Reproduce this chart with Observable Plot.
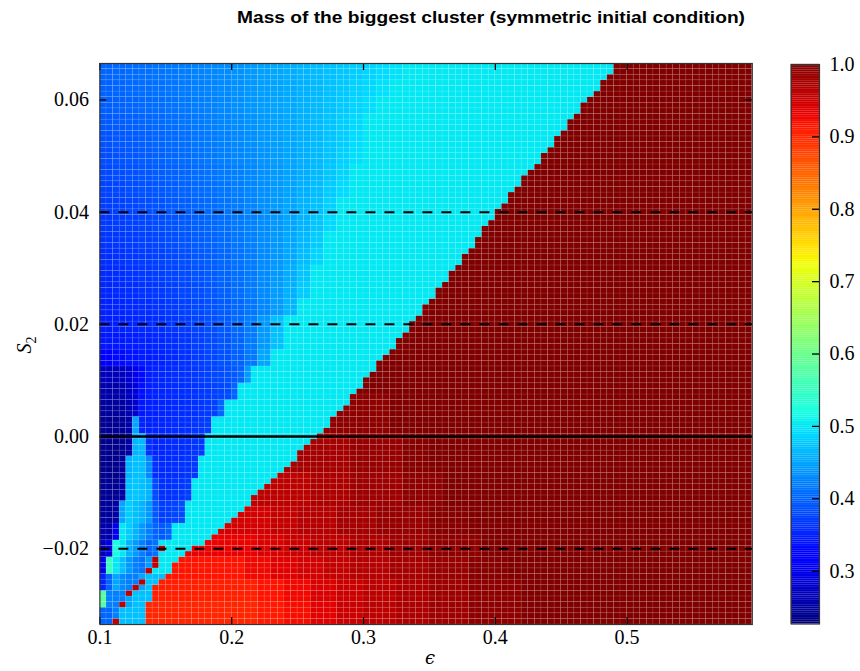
<!DOCTYPE html>
<html><head><meta charset="utf-8">
<script src="https://cdn.jsdelivr.net/npm/d3@7"></script>
<script src="https://cdn.jsdelivr.net/npm/@observablehq/plot@0.6"></script>
<style>
html,body{margin:0;padding:0;background:#fff;}
#wrap{position:relative;width:860px;height:671px;overflow:hidden;background:#fff;}
#wrap > *{position:absolute;left:0;top:0;}
#wrap svg.axisfont text{font-family:"Liberation Serif","DejaVu Serif",serif !important;font-size:20px !important;}
</style></head><body><div id="wrap"></div>
<script>
// ---------------- data ----------------
const title = "Mass of the biggest cluster (symmetric initial condition)";
const xTicks = [0.1, 0.2, 0.3, 0.4, 0.5];
const yTicks = [-0.02, 0.0, 0.02, 0.04, 0.06];
const cbTicks = [0.3, 0.4, 0.5, 0.6, 0.7, 0.8, 0.9, 1.0];
const dashedLevels = [-0.02, 0.02, 0.04];
const zeroLevel = [0];
const colorDomain = [0.227, 1.0];
// grid: epsilon cell edges 0.100..0.595 (step 0.005), S2 rows centred -0.033..0.066 (step 0.001)
const epsEdges = d3.range(0, 100).map(i => +(0.1 + 0.005 * i).toFixed(3));
const s2Centres = d3.range(0, 100).map(j => +(-0.033 + 0.001 * j).toFixed(3));
// first column of the dark-red region, per S2 row (bottom to top)
const redStart = [7,7,7,7,8,8,8,9,10,11, 11,12,13,14,16,17,18,19,20,21,
  22,23,23,24,25,26,27,28,29,30, 30,31,32,33,34,35,35,36,37,38,
  38,39,40,40,41,42,42,43,44,45, 45,46,47,47,48,49,49,50,51,51,
  52,53,53,54,55,55,56,57,57,58, 58,59,60,60,61,62,62,63,64,64,
  65,66,67,67,68,69,69,70,71,71, 72,73,73,74,75,76,76,77,78,78];
// blue/cyan part: [row from, row to, columns per value, values from column 0; the last one runs on to the red]
const coolBands = [
  [97,99,2,[.40,.402,.405,.408,.411,.414,.418,.422,.426,.43,.435,.44,.445,.45,.455,.46,.465,.47,.475,.48,.485,.49,.495,.50]],
  [94,96,2,[.397,.40,.403,.406,.409,.412,.416,.42,.424,.428,.433,.438,.443,.448,.453,.458,.464,.47,.476,.482,.488,.494,.50]],
  [91,93,2,[.394,.397,.40,.403,.406,.41,.414,.418,.422,.427,.432,.437,.442,.447,.452,.458,.464,.47,.477,.484,.491,.50]],
  [88,90,2,[.39,.393,.396,.40,.403,.407,.411,.415,.42,.425,.43,.435,.44,.446,.452,.458,.465,.472,.48,.488,.50]],
  [85,87,2,[.386,.389,.392,.396,.40,.404,.408,.412,.417,.422,.427,.432,.438,.444,.45,.457,.464,.472,.48,.49,.50]],
  [82,84,2,[.382,.385,.389,.393,.397,.401,.405,.41,.415,.42,.425,.43,.436,.442,.449,.456,.464,.472,.482,.492,.50]],
  [79,81,2,[.378,.381,.385,.389,.393,.397,.401,.406,.411,.416,.421,.427,.433,.44,.447,.455,.464,.474,.485,.50]],
  [76,78,2,[.374,.377,.381,.385,.389,.393,.398,.403,.408,.413,.419,.425,.432,.44,.448,.457,.467,.478,.49,.50]],
  [73,75,2,[.37,.373,.377,.381,.385,.39,.395,.40,.405,.411,.417,.424,.432,.44,.449,.459,.47,.483,.50]],
  [70,72,2,[.366,.369,.373,.377,.381,.386,.391,.396,.402,.408,.415,.422,.43,.439,.449,.46,.473,.488,.50]],
  [67,69,2,[.362,.365,.369,.373,.377,.382,.387,.393,.399,.405,.412,.42,.429,.439,.45,.463,.478,.50]],
  [64,66,2,[.358,.361,.365,.369,.373,.378,.383,.389,.395,.402,.41,.418,.428,.439,.452,.467,.485,.50]],
  [61,63,2,[.355,.358,.362,.366,.37,.375,.38,.386,.393,.40,.408,.417,.428,.44,.455,.473,.50]],
  [58,60,2,[.352,.355,.358,.362,.366,.371,.376,.382,.389,.397,.406,.416,.428,.442,.458,.478,.50]],
  [55,57,2,[.349,.351,.354,.358,.362,.367,.372,.378,.385,.393,.402,.413,.426,.442,.462,.50]],
  [52,54,2,[.345,.347,.35,.354,.358,.363,.368,.375,.383,.392,.403,.418,.44,.47,.50]],
  [49,51,2,[.34,.342,.345,.349,.353,.358,.364,.371,.379,.388,.40,.416,.44,.47,.50]],
  [46,48,2,[.32,.33,.338,.344,.349,.355,.361,.368,.376,.385,.397,.415,.45,.50]],
  [43,45,1,[.27,.265,.265,.27,.28,.30,.33,.345,.35,.352,.355,.358,.36,.362,.365,.368,.372,.376,.38,.385,.39,.40,.44,.50]],
  [40,42,1,[.26,.255,.255,.26,.27,.29,.335,.345,.35,.352,.354,.356,.358,.36,.362,.365,.368,.372,.376,.38,.40,.50]],
  [37,39,1,[.25,.245,.245,.25,.26,.28,.34,.345,.348,.35,.352,.354,.356,.358,.36,.364,.368,.372,.40,.50]],
  [34,36,1,[.245,.24,.24,.245,.255,.45,.35,.348,.35,.352,.354,.356,.358,.36,.363,.366,.37,.50]],
  [30,33,1,[.24,.235,.235,.24,.25,.46,.465,.36,.352,.352,.354,.356,.358,.36,.363,.366,.50]],
  [26,29,1,[.24,.235,.235,.245,.46,.47,.47,.43,.36,.355,.356,.358,.36,.363,.366,.50]],
  [22,25,1,[.245,.24,.24,.25,.47,.475,.47,.46,.38,.36,.36,.362,.365,.37,.50]],
  [18,21,1,[.25,.245,.25,.45,.48,.47,.46,.44,.39,.37,.372,.375,.38,.50]],
  [15,17,1,[.26,.255,.30,.50,.48,.46,.44,.42,.40,.39,.40,.50]],
  [12,14,1,[.27,.29,.52,.50,.46,.44,.42,.40,.41,.50]],
  [9,11,1,[.30,.55,.50,.47,.44,.42,.41,.44,.50]],
  [6,8,1,[.35,.40,.45,.43,.42,.42,.45,.47]],
  [3,5,1,[.58,.42,.42,.42,.45,.47,.47]],
  [0,2,1,[.40,.40,.42,.47,.47,.47,.47]]
];
// red part: [row from, row to, "startColumn:value ..."]
const warmBands = [
  [0,3,"0:.90 24:.91 28:.92 32:.935 36:.95 40:.96 45:.97 50:.98 56:.99 64:1"],
  [4,7,"0:.905 24:.915 28:.925 32:.94 36:.95 40:.96 45:.97 50:.98 56:.99 64:1"],
  [8,11,"0:.915 22:.925 26:.935 30:.945 34:.955 38:.965 44:.975 50:.985 56:.995 62:1"],
  [12,15,"0:.93 24:.94 28:.95 32:.96 38:.97 44:.98 50:.99 58:1"],
  [16,20,"0:.945 26:.955 30:.965 36:.975 42:.985 50:.995 56:1"],
  [21,26,"0:.96 32:.97 38:.98 46:.99 52:1"],
  [27,33,"0:.975 38:.985 46:.995 50:1"],
  [34,40,"0:.99 44:1"],
  [41,99,"0:1"]
];
// isolated red cells left of the boundary: [column, row, value]
const strayCells = [[2,0,.96],[3,3,.96],[4,5,.96],[5,6,.96],[6,7,.96],[7,9,.96],[8,10,.96],[8,11,.96],[9,13,.96]];

// ---------------- jet colormap ----------------
function jet(t) {
  t = Math.max(0, Math.min(1, t));
  const f = pts => { for (let i = 1; i < pts.length; i++) if (t <= pts[i][0]) { const [a, fa] = pts[i-1], [b, fb] = pts[i]; return fa + (fb - fa) * (t - a) / (b - a); } return pts[pts.length-1][1]; };
  const r = f([[0,0],[0.35,0],[0.66,1],[0.89,1],[1,0.5]]);
  const g = f([[0,0],[0.125,0],[0.375,1],[0.64,1],[0.91,0],[1,0]]);
  const b = f([[0,0.5],[0.11,1],[0.34,1],[0.65,0],[1,0]]);
  return `rgb(${Math.round(r*255)},${Math.round(g*255)},${Math.round(b*255)})`;
}

// ---------------- build cells ----------------
const parse = s => s.trim().split(/\s+/).map(t => { const [c, v] = t.split(":"); return [+c, +v]; });
const tokAt = (toks, col) => { let v = toks[0][1]; for (const [c, val] of toks) { if (col >= c) v = val; else break; } return v; };
const nCols = epsEdges.length - 1, nRows = s2Centres.length;
const coolRow = [], warmRow = [];
coolBands.forEach(([a, b, step, vals]) => { for (let j = a; j <= b; j++) coolRow[j] = {step, vals}; });
warmBands.forEach(([a, b, s]) => { const t = parse(s); for (let j = a; j <= b; j++) warmRow[j] = t; });
const coolAt = ({step, vals}, col) => vals[Math.min(vals.length - 1, Math.floor(col / step))];
const stray = new Map(strayCells.map(([c, j, v]) => [c + "," + j, v]));
const halfDy = 0.0005;
const cells = [];
for (let j = 0; j < nRows; j++) for (let c = 0; c < nCols; c++) {
  let v = c >= redStart[j] ? tokAt(warmRow[j], c) : coolAt(coolRow[j], c);
  if (stray.has(c + "," + j)) v = stray.get(c + "," + j);
  cells.push({x1: epsEdges[c], x2: epsEdges[c+1], y1: s2Centres[j] - halfDy, y2: s2Centres[j] + halfDy, v});
}

const W = 860, H = 671;
const mL = 99.4, mR = 860 - 751.8, mT = 63, mB = 671 - 624;
const frameH = H - mT - mB, frameW = W - mL - mR;
const colorOpt = {type: "linear", domain: colorDomain, interpolate: jet, clamp: true};
const serif = "Liberation Serif, DejaVu Serif, serif";
const axisFont = {fontFamily: serif, fontSize: 20};

const main = Plot.plot({
  width: W, height: H,
  marginLeft: mL, marginRight: mR, marginTop: mT, marginBottom: mB,
  x: {domain: [0.1, 0.595]},
  y: {domain: [-0.0335, 0.0665]},
  color: colorOpt,
  style: {fontFamily: serif, fontSize: "20px", color: "#000", background: "transparent", overflow: "visible"},
  marks: [
    Plot.rect(cells, {x1: "x1", x2: "x2", y1: "y1", y2: "y2", fill: "v", stroke: "#fff", strokeOpacity: 0.14, strokeWidth: 0.6, clip: true}),
    Plot.ruleY(dashedLevels, {stroke: "#000", strokeWidth: 2, strokeDasharray: "10,9"}),
    Plot.ruleY(zeroLevel, {stroke: "#000", strokeWidth: 2.6}),
    Plot.tickX(xTicks, {x: d => d, insetTop: frameH - 7, stroke: "#000", strokeWidth: 1.3}),
    Plot.tickX(xTicks, {x: d => d, insetBottom: frameH - 7, stroke: "#000", strokeWidth: 1.3}),
    Plot.tickY(yTicks, {y: d => d, insetRight: frameW - 7, stroke: "#000", strokeWidth: 1.3}),
    Plot.tickY(yTicks, {y: d => d, insetLeft: frameW - 7, stroke: "#000", strokeWidth: 1.3}),
    Plot.frame({stroke: "#333", strokeWidth: 1.2}),
    Plot.axisX({ticks: xTicks, tickFormat: d3.format(".1f"), tickSize: 0, tickPadding: 5, label: null, ...axisFont}),
    Plot.axisY({ticks: yTicks, tickFormat: d3.format(".2f"), tickSize: 0, tickPadding: 11, label: null, ...axisFont})
  ]
});

// ---------------- colour bar ----------------
const cbSteps = d3.range(0, 300).map(i => colorDomain[0] + (colorDomain[1] - colorDomain[0]) * i / 300);
const cbStep = (colorDomain[1] - colorDomain[0]) / 300;
const cbLeft = 770, cbW = 90;
const cb = Plot.plot({
  width: cbW, height: H,
  marginLeft: 20.7, marginRight: cbW - 20.7 - 28.3, marginTop: 64, marginBottom: 671 - 623.5,
  x: {domain: [0, 1], axis: null},
  y: {domain: colorDomain},
  color: colorOpt,
  style: {fontFamily: serif, fontSize: "20px", color: "#000", background: "transparent", overflow: "visible"},
  marks: [
    Plot.rect(cbSteps, {x1: 0, x2: 1, y1: d => d, y2: d => d + cbStep * 1.05, fill: d => d}),
    Plot.tickY(cbTicks.filter(d => d < 1), {y: d => d, insetLeft: 28.3 - 7, stroke: "#000", strokeWidth: 1.3}),
    Plot.frame({stroke: "#333", strokeWidth: 1.2}),
    Plot.axisY({anchor: "right", ticks: cbTicks, tickFormat: d3.format(".1f"), tickSize: 0, tickPadding: 10, label: null, ...axisFont})
  ]
});
cb.style.left = cbLeft + "px";

const wrap = document.getElementById("wrap");
[main, cb].forEach(svg => { svg.classList.add("axisfont"); wrap.appendChild(svg); });
[main, cb].forEach(svg => d3.select(svg).selectAll("text").attr("font-family", serif).style("font-family", serif));

// ---------------- title and axis labels ----------------
const ov = d3.create("svg").attr("width", W).attr("height", H).style("overflow", "visible");
ov.append("text").attr("x", 491).attr("y", 23).attr("text-anchor", "middle")
  .attr("font-family", "Liberation Sans, Arial, sans-serif").attr("font-weight", "bold").attr("font-size", 17)
  .attr("textLength", 508).attr("lengthAdjust", "spacingAndGlyphs").text(title);
ov.append("text").attr("x", 430).attr("y", 664).attr("text-anchor", "middle")
  .attr("font-family", "DejaVu Serif, serif").attr("font-style", "italic").attr("font-size", 18).text("ϵ");
const yl = ov.append("text").attr("transform", "translate(31,345) rotate(-90)").attr("text-anchor", "middle")
  .attr("font-family", serif).attr("font-size", 20);
yl.append("tspan").attr("font-style", "italic").text("S");
yl.append("tspan").attr("font-size", 14).attr("dy", 5).text("2");
wrap.appendChild(ov.node());
</script></body></html>
